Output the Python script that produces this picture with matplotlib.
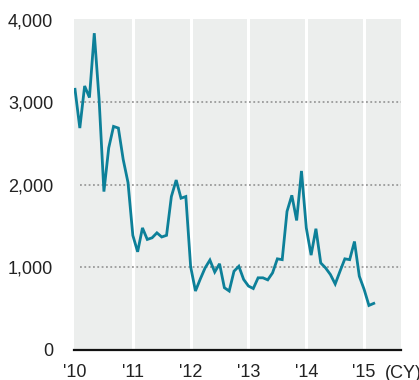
import numpy as np
import matplotlib.pyplot as plt

plt.rcParams['font.family'] = ['Liberation Sans', 'DejaVu Sans']

# monthly values, Jan 2010 - Mar 2015
values = [3160, 2690, 3200, 3060, 3840, 3040, 1920, 2450, 2710, 2690, 2310, 2030,
          1390, 1190, 1480, 1340, 1360, 1420, 1370, 1390, 1860, 2060, 1840, 1860,
          1010, 715, 860, 995, 1090, 945, 1045, 755, 715, 955, 1015, 855,
          775, 745, 875, 875, 850, 935, 1105, 1095, 1680, 1875, 1570, 2170,
          1480, 1150, 1470, 1055, 995, 915, 800, 955, 1105, 1095, 1315, 895,
          735, 540, 565]
years = [2010, 2011, 2012, 2013, 2014, 2015]
year_labels = ["'10", "'11", "'12", "'13", "'14", "'15"]
y_ticks = [0, 1000, 2000, 3000, 4000]
y_labels = ['0', '1,000', '2,000', '3,000', '4,000']

x = 2010 + np.arange(len(values)) / 12

fig = plt.figure(figsize=(4.19, 3.80), dpi=100)
ax = fig.add_axes([74 / 419, 1 - 350 / 380, 327 / 419, 331 / 380])
ax.set_facecolor('#eceeed')

# year separators
for yr in years[1:]:
    ax.axvline(yr, color='white', lw=2.2, zorder=1)

# dotted gridlines
for v in y_ticks[1:4]:
    ax.plot([2010.08, 2015.7], [v, v], color='#9a9a9a', lw=1.3,
            linestyle=(0, (1, 1.4)), zorder=2)

ax.plot(x, values, color='#0d8099', lw=2.0, zorder=3, solid_joinstyle='miter')

ax.set_xlim(2010 - 1 / 58, 2010 + 327 / 58)
ax.set_ylim(0, 4012)
ax.axhline(0, color='#111111', lw=1.6, zorder=4, clip_on=False)

for s in ax.spines.values():
    s.set_visible(False)

ax.set_yticks(y_ticks)
ax.set_yticklabels(y_labels)
ax.set_xticks(years)
ax.set_xticklabels(year_labels)
ax.tick_params(axis='y', length=0, pad=15, labelsize=13, labelcolor='#222222')
ax.tick_params(axis='x', length=0, pad=10, labelsize=13, labelcolor='#222222')

fig.text(385 / 419, 1 - 373 / 380, '(CY)', fontsize=13, color='#222222',
         ha='left', va='center')

fig.savefig('out.png', dpi=100)
